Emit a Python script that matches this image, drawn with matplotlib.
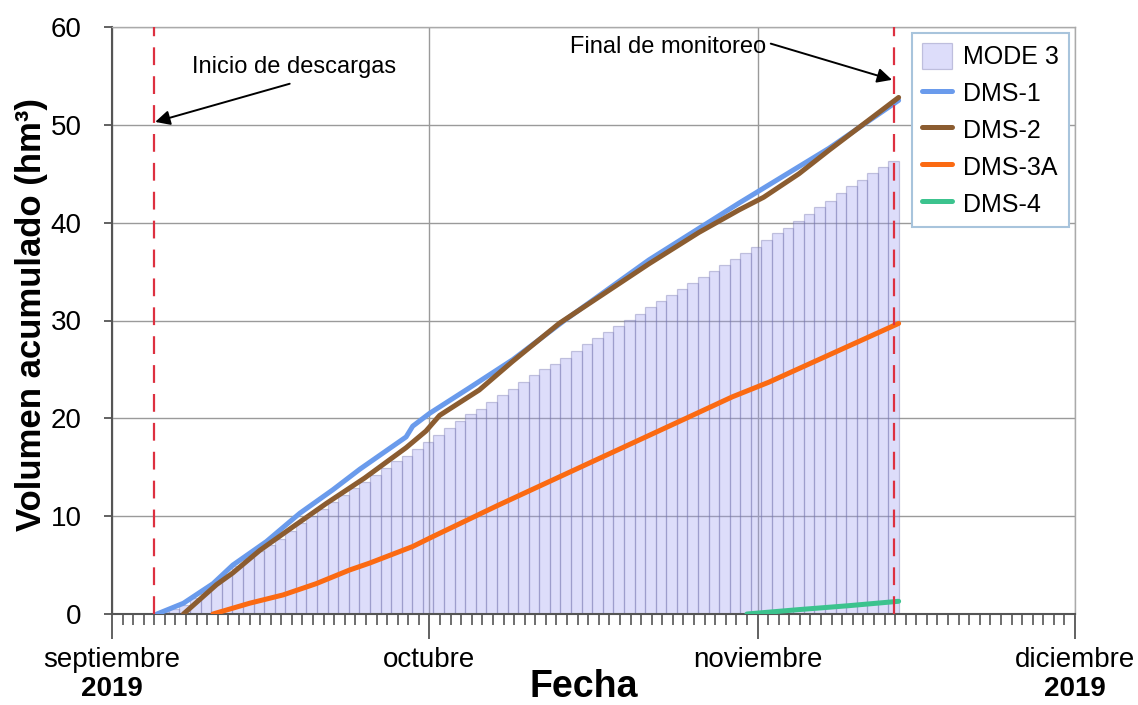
import matplotlib
matplotlib.use("Agg")
import matplotlib.pyplot as plt
import matplotlib.dates as mdates
import pandas as pd

plt.rcParams['font.family'] = ['Liberation Sans', 'DejaVu Sans']

# ---------------- data ----------------
mode3_dates = pd.date_range('2019-09-05', '2019-11-13', freq='D')
mode3_values = [0.2, 0.5, 0.9, 1.6, 2.3, 3.2, 4.1, 4.9, 5.7, 6.4,
                7.05, 7.7, 8.5, 9.3, 10.05, 10.7, 11.4, 12.2, 12.85, 13.5,
                14.2, 14.9, 15.6, 16.2, 16.9, 17.6, 18.3, 19.0, 19.7, 20.4,
                21.0, 21.7, 22.4, 23.0, 23.7, 24.4, 25.0, 25.6, 26.2, 26.9,
                27.6, 28.2, 28.8, 29.4, 30.05, 30.7, 31.35, 32.0, 32.6, 33.2,
                33.8, 34.4, 35.1, 35.7, 36.3, 36.9, 37.5, 38.2, 38.9, 39.5,
                40.2, 40.9, 41.6, 42.25, 43.0, 43.7, 44.4, 45.05, 45.7, 46.3]

dms1_dates = ['2019-09-05 06:00', '2019-09-07 18:00', '2019-09-10 13:00', '2019-09-12 10:00',
              '2019-09-15 14:00', '2019-09-18 18:00', '2019-09-21 21:00', '2019-09-24 10:00',
              '2019-09-28 19:00', '2019-09-29 10:00', '2019-10-01 00:00', '2019-10-04 18:00',
              '2019-10-08 21:00', '2019-10-13 18:00', '2019-10-21 18:00', '2019-10-30 06:00',
              '2019-11-07 18:00', '2019-11-14 08:00']
dms1_values = [0.0, 1.1, 3.1, 5.0, 7.4, 10.3, 12.7, 14.8, 18.1, 19.2, 20.5, 23.1,
               26.0, 30.0, 36.2, 42.0, 47.6, 52.5]

dms2_dates = ['2019-09-07 18:00', '2019-09-10 21:00', '2019-09-12 10:00', '2019-09-14 23:00',
              '2019-09-18 02:00', '2019-09-21 06:00', '2019-09-24 21:00', '2019-09-28 19:00',
              '2019-09-30 16:00', '2019-10-01 23:00', '2019-10-05 17:00', '2019-10-08 20:00',
              '2019-10-13 06:00', '2019-10-21 18:00', '2019-10-26 11:00', '2019-10-30 06:00',
              '2019-11-01 14:00', '2019-11-04 22:00', '2019-11-07 18:00', '2019-11-14 08:00']
dms2_values = [0.0, 3.0, 4.2, 6.5, 8.9, 11.3, 13.9, 17.0, 18.7, 20.3, 22.9, 25.8,
               29.7, 35.8, 39.0, 41.3, 42.6, 45.0, 47.4, 52.8]

dms3a_dates = ['2019-09-10 13:00', '2019-09-14 00:00', '2019-09-17 04:00', '2019-09-20 07:00',
               '2019-09-23 11:00', '2019-09-25 08:00', '2019-09-29 10:00', '2019-10-01 07:00',
               '2019-10-07 11:00', '2019-10-17 01:00', '2019-10-25 01:00', '2019-10-29 15:00',
               '2019-11-02 02:00', '2019-11-14 08:00']
dms3a_values = [0.0, 1.1, 1.95, 3.1, 4.5, 5.2, 6.9, 7.9, 11.1, 15.9, 19.9, 22.2, 23.7, 29.7]

dms4_dates = ['2019-10-31 00:00', '2019-11-04 22:00', '2019-11-09 15:00', '2019-11-14 08:00']
dms4_values = [0.0, 0.45, 0.85, 1.3]

inicio_descargas = '2019-09-05 00:00'
final_monitoreo = '2019-11-13 21:00'

month_ticks = ['2019-09-01', '2019-10-01', '2019-11-01', '2019-12-01']
month_labels = ['septiembre', 'octubre', 'noviembre', 'diciembre']
year_label = '2019'

# ---------------- figure ----------------
fig = plt.figure(figsize=(11.38, 7.05), dpi=100)
ax = fig.add_axes([112 / 1138, 1 - 614 / 705, 963 / 1138, 587 / 705])

def d(s):
    return mdates.date2num(pd.to_datetime(s))

bar_x = [mdates.date2num(t) + 21 / 24 for t in mode3_dates]
bars = ax.bar(bar_x, mode3_values, width=1.0, facecolor=(0.62, 0.62, 0.95, 0.35),
              edgecolor=(0.45, 0.45, 0.68, 0.38), linewidth=0.9, label='MODE 3', zorder=2)

series = [
    (dms1_dates, dms1_values, '#6a9bec', 'DMS-1'),
    (dms2_dates, dms2_values, '#8b5c30', 'DMS-2'),
    (dms3a_dates, dms3a_values, '#fb6a12', 'DMS-3A'),
    (dms4_dates, dms4_values, '#3cc38e', 'DMS-4'),
]
handles = [bars]
for dates, vals, col, lab in series:
    ln, = ax.plot([d(s) for s in dates], vals, color=col, lw=3.6, label=lab, zorder=4,
                  solid_capstyle='round', solid_joinstyle='round')
    handles.append(ln)

for ev in (inicio_descargas, final_monitoreo):
    ax.axvline(d(ev), color='#dd3040', lw=1.6, dashes=(8, 5), zorder=5)

ax.set_xlim(d(month_ticks[0]), d(month_ticks[-1]))
ax.set_ylim(0, 60)
ax.set_yticks(range(0, 61, 10))
ax.set_xticks([d(s) for s in month_ticks])
ax.set_xticklabels(month_labels)
ax.xaxis.set_minor_locator(mdates.DayLocator())

ax.set_axisbelow(True)
ax.grid(which='major', color='#9a9a9a', lw=1.0, zorder=0)

ax.tick_params(axis='x', which='major', length=18, width=1.3, color='#555555',
               pad=6, labelsize=20)
ax.tick_params(axis='x', which='minor', length=8, width=1.2, color='#555555')
ax.tick_params(axis='y', which='major', length=6, width=1.3, color='#555555',
               pad=16, labelsize=20)

for s in ('left', 'bottom'):
    ax.spines[s].set_color('#555555')
    ax.spines[s].set_linewidth(1.5)
for s in ('top', 'right'):
    ax.spines[s].set_color('#aaaaaa')
    ax.spines[s].set_linewidth(1.0)

ax.set_ylabel('Volumen acumulado (hm³)', fontsize=25, fontweight='bold')
ax.yaxis.set_label_coords(-0.066, 0.51)
ax.set_xlabel('Fecha', fontsize=27, fontweight='bold')
ax.xaxis.set_label_coords(0.49, -0.094)

for xs in (month_ticks[0], month_ticks[-1]):
    ax.text(d(xs), -0.128, year_label, transform=ax.get_xaxis_transform(),
            ha='center', va='center', fontsize=20, fontweight='bold')

arrow = dict(arrowstyle='-|>', color='black', lw=1.4, mutation_scale=22,
             shrinkA=0, shrinkB=0)
ax.text(d('2019-09-18 06:00'), 55.9, 'Inicio de descargas', ha='center', va='center',
        fontsize=17)
ax.annotate('', xy=(d('2019-09-05 02:00'), 50.3), xytext=(d('2019-09-17 19:00'), 54.2),
            arrowprops=arrow, zorder=6)
ax.text(d('2019-10-23 12:00'), 58.0, 'Final de monitoreo', ha='center', va='center',
        fontsize=17)
ax.annotate('', xy=(d('2019-11-13 17:00'), 54.6), xytext=(d('2019-11-02 06:00'), 58.3),
            arrowprops=arrow, zorder=6)

leg = ax.legend(handles=handles, labels=['MODE 3', 'DMS-1', 'DMS-2', 'DMS-3A', 'DMS-4'],
                loc='upper right', fontsize=18, frameon=True, fancybox=False,
                edgecolor='#a8c4dc', framealpha=1, borderpad=0.4, handlelength=1.2,
                handleheight=1.2, handletextpad=0.45, labelspacing=0.42,
                borderaxespad=0.25)
leg.get_frame().set_linewidth(1.5)

fig.savefig('out.png', dpi=100)
